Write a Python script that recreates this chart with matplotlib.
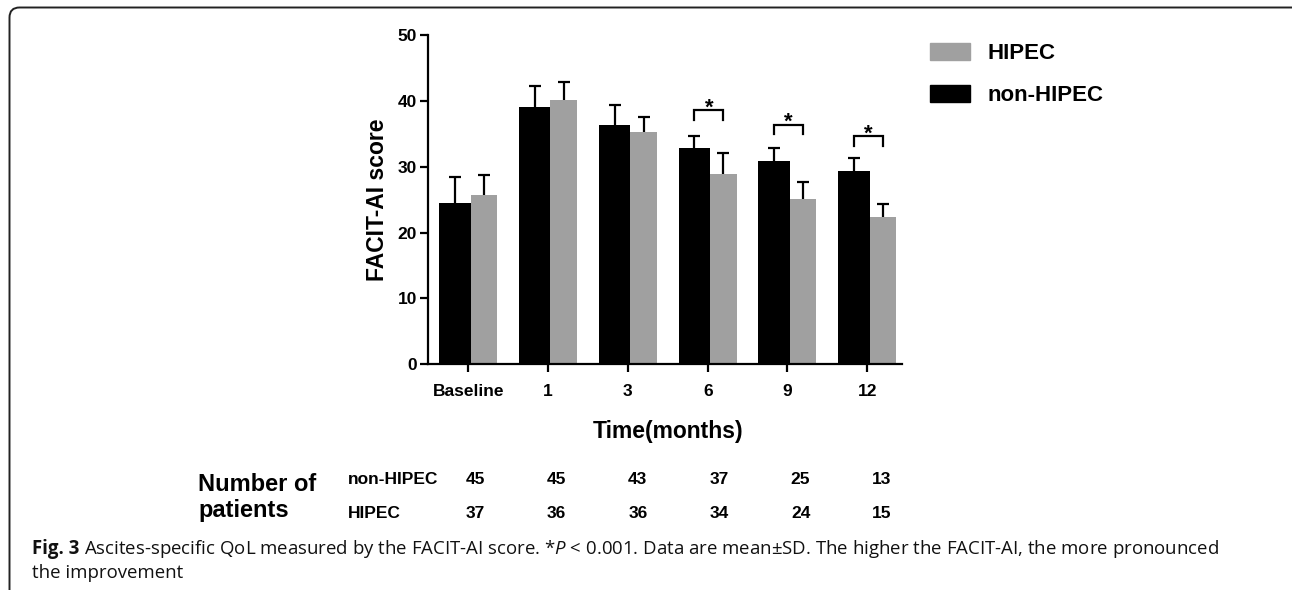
import matplotlib
matplotlib.use('Agg')
import matplotlib.pyplot as plt
from matplotlib.patches import FancyBboxPatch, Patch
from matplotlib.transforms import IdentityTransform
import numpy as np

# ---------------- data ----------------
categories = ['Baseline', '1', '3', '6', '9', '12']
non_hipec_mean = [24.5, 39.1, 36.4, 32.8, 30.8, 29.3]
non_hipec_sd = [3.9, 3.1, 2.9, 1.8, 2.0, 2.0]
hipec_mean = [25.7, 40.1, 35.2, 28.9, 25.1, 22.3]
hipec_sd = [3.0, 2.7, 2.4, 3.2, 2.6, 2.1]
n_non_hipec = [45, 45, 43, 37, 25, 13]
n_hipec = [37, 36, 36, 34, 24, 15]
sig_groups = [3, 4, 5]
sig_heights = [38.6, 36.4, 34.6]
yticks = [0, 10, 20, 30, 40, 50]

# ---------------- style ----------------
plt.rcParams['font.family'] = ['Liberation Sans', 'DejaVu Sans']
plt.rcParams['font.weight'] = 'bold'
plt.rcParams['mathtext.fontset'] = 'custom'
plt.rcParams['mathtext.it'] = 'Open Sans:style=italic:weight=normal'
plt.rcParams['mathtext.rm'] = 'Open Sans:weight=normal'
GRAY = '#a0a0a0'
W, H = 1292, 590

fig = plt.figure(figsize=(W / 100, H / 100), dpi=100)
ax = fig.add_axes([428 / W, 1 - 364.3 / H, 474 / W, 329.3 / H])

x = np.arange(len(categories))
bw_black, off_black = 0.3926, -0.1671
bw_gray, off_gray = 0.3342, 0.1963
ekw = dict(ecolor='black', elinewidth=1.6, capsize=4.3, capthick=1.6)


def bars_with_upper_sd(xpos, mean, sd, width, color):
    cont = ax.bar(xpos, mean, width=width, color=color,
                  yerr=[np.zeros(len(xpos)), sd], error_kw=ekw, zorder=2)
    # keep only the upper caps (one-sided SD bars as in GraphPad)
    _, caplines, _ = cont.errorbar.lines
    for cl in caplines:
        if np.allclose(cl.get_ydata(), mean):
            cl.set_visible(False)
    return cont


bars_with_upper_sd(x + off_black, non_hipec_mean, non_hipec_sd, bw_black, 'black')
bars_with_upper_sd(x + off_gray, hipec_mean, hipec_sd, bw_gray, GRAY)

# significance brackets
for g, h in zip(sig_groups, sig_heights):
    x0, x1 = g + off_black, g + off_gray
    ax.plot([x0, x0, x1, x1], [h - 1.5, h, h, h - 1.5], color='black',
            lw=1.6, solid_joinstyle='miter', zorder=3)
    ax.text((x0 + x1) / 2, h - 0.5, '*', ha='center', va='baseline',
            fontsize=16, fontweight='bold')

ax.set_xlim(-0.505, 5.435)
ax.set_ylim(0, 50)
ax.set_yticks(yticks)
ax.set_xticks(x)
ax.set_xticklabels(categories)
for s in ['top', 'right']:
    ax.spines[s].set_visible(False)
for s in ['left', 'bottom']:
    ax.spines[s].set_linewidth(1.6)
ax.tick_params(axis='both', direction='out', length=6, width=1.6, labelsize=12.5)
ax.tick_params(axis='y', pad=2)
ax.tick_params(axis='x', pad=8)

ax.set_ylabel('FACIT-AI score', fontsize=16.5, fontweight='bold')
ax.yaxis.set_label_coords((378 - 428) / 474, 0.5)
ax.yaxis.label.set_va('center')
ax.set_xlabel('Time(months)', fontsize=16.5, fontweight='bold')
ax.xaxis.set_label_coords(0.506, (364.3 - 432) / 329.3)
ax.xaxis.label.set_va('center')

# legend
fig.legend(handles=[Patch(color=GRAY, label='HIPEC'),
                    Patch(color='black', label='non-HIPEC')],
           loc='upper left', bbox_to_anchor=(930 / W, 1 - 43 / H),
           frameon=False, fontsize=16, handlelength=1.8, handleheight=0.77,
           handletextpad=0.8, labelspacing=0.95, borderpad=0, borderaxespad=0)

# number of patients table
def fx(px):
    return px / W


def fy(py):
    return 1 - py / H


fig.text(fx(198), fy(491), 'Number of', fontsize=17, fontweight='bold', va='baseline')
fig.text(fx(198), fy(517), 'patients', fontsize=17, fontweight='bold', va='baseline')
fig.text(fx(348), fy(484), 'non-HIPEC', fontsize=12.5, fontweight='bold', va='baseline')
fig.text(fx(348), fy(518), 'HIPEC', fontsize=12.5, fontweight='bold', va='baseline')
for i, (a, b) in enumerate(zip(n_non_hipec, n_hipec)):
    cx = 475 + i * 81.4
    fig.text(fx(cx), fy(484), str(a), fontsize=12.5, fontweight='bold',
             ha='center', va='baseline')
    fig.text(fx(cx), fy(518), str(b), fontsize=12.5, fontweight='bold',
             ha='center', va='baseline')

# caption
cap_bold = 'Fig. 3'
cap_rest = ('Ascites-specific QoL measured by the FACIT-AI score. *$\\mathit{P}$ < 0.001. '
            'Data are mean\u00b1SD. The higher the FACIT-AI, the more pronounced')
cap_line2 = 'the improvement'
renderer = fig.canvas.get_renderer()
cap_family = ['Open Sans', 'DejaVu Sans']


def draw_caption(fs):
    t1 = fig.text(32 / W, fy(554), cap_bold, fontsize=fs, fontweight='bold',
                  family=cap_family, va='baseline', color='#111111')
    w1 = t1.get_window_extent(renderer).width
    t2 = fig.text((32 + w1 + fs * 0.35) / W, fy(554), cap_rest, fontsize=fs,
                  fontweight='normal', family=cap_family, va='baseline', color='#111111')
    bb = t2.get_window_extent(renderer)
    return [t1, t2], bb.x1 - 32


arts, width = draw_caption(13)
for a in arts:
    a.remove()
fs_cap = 13 * 1185 / width
arts, width = draw_caption(fs_cap)
fig.text(32 / W, fy(578), cap_line2, fontsize=fs_cap, fontweight='normal',
         family=cap_family, va='baseline', color='#111111')

# border
border = FancyBboxPatch((9.5, -40), 1320, H - 7.5 + 40,
                        boxstyle='round,pad=0,rounding_size=10',
                        transform=IdentityTransform(), fill=False,
                        edgecolor='#222222', linewidth=1.4)
fig.add_artist(border)

fig.savefig('out.png', dpi=100)
